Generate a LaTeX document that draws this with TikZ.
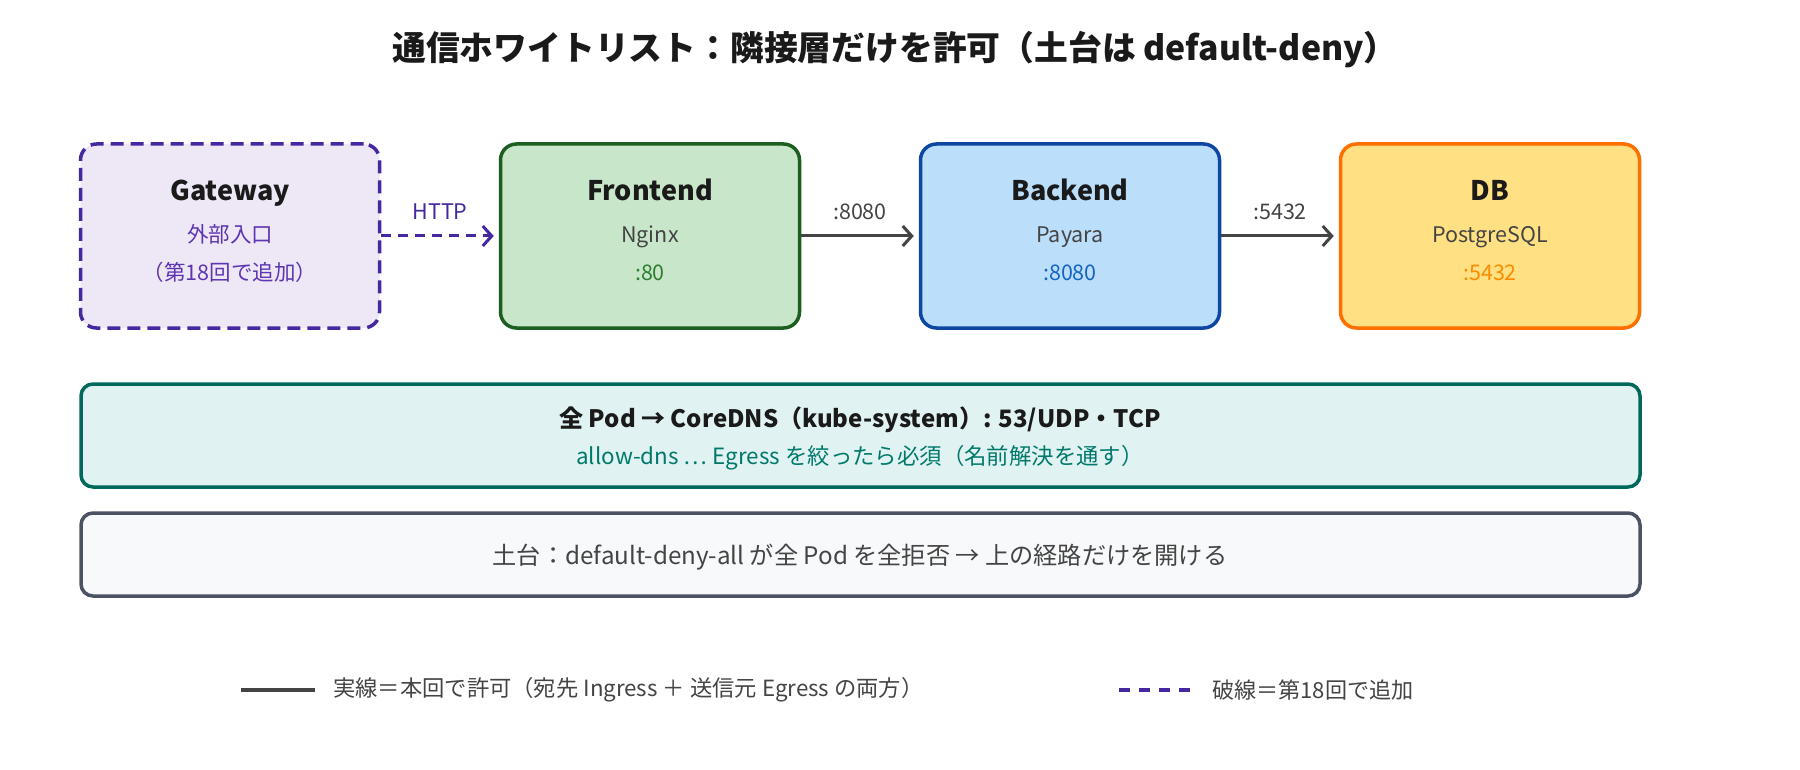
\documentclass[tikz,border=0pt]{standalone}
\usepackage{fontspec}
\setmainfont{Noto Sans CJK JP}
\usepackage{xcolor}
\usetikzlibrary{arrows.meta, positioning}
\definecolor{ink}{HTML}{1A1A1A}
\definecolor{greytext}{HTML}{444444}
\definecolor{gwfill}{HTML}{EDE7F6}
\definecolor{gwline}{HTML}{4527A0}
\definecolor{gwtext}{HTML}{5E35B1}
\definecolor{fefill}{HTML}{C8E6C9}
\definecolor{feline}{HTML}{1B5E20}
\definecolor{fetext}{HTML}{2E7D32}
\definecolor{befill}{HTML}{BBDEFB}
\definecolor{beline}{HTML}{0D47A1}
\definecolor{betext}{HTML}{1565C0}
\definecolor{dbfill}{HTML}{FFE082}
\definecolor{dbline}{HTML}{FF6F00}
\definecolor{dbtext}{HTML}{FB8C00}
\definecolor{dnsfill}{HTML}{E0F2F1}
\definecolor{dnsline}{HTML}{00695C}
\definecolor{dnstext}{HTML}{00796B}
\definecolor{basefill}{HTML}{F8F9FA}
\definecolor{baseedge}{HTML}{4A5263}
\definecolor{flowgrey}{HTML}{444444}

\begin{document}
\begin{tikzpicture}[
    x=1pt, y=-1pt,
    svcbox/.style 2 args={draw=#2, fill=#1, line width=3.5pt, rounded corners=16pt, minimum width=299pt, minimum height=184pt},
    txthead/.style={anchor=base, inner sep=0pt, font=\fontsize{27}{30}\selectfont\bfseries, text=ink},
    txtsub/.style={anchor=base, inner sep=0pt, font=\fontsize{21.5}{24}\selectfont, text=#1},
    portlbl/.style={midway, above=15pt, inner sep=0pt, font=\fontsize{21.5}{24}\selectfont, text=#1},
    arrow/.style={-{Straight Barb[length=9pt, width=20pt]}, line width=3pt, color=#1, shorten >=5pt}
]
\fill[white] (0,0) rectangle (1800,770);
\useasboundingbox (0,0) rectangle (1800,770);

\node[font=\fontsize{33.8}{38}\selectfont\bfseries, text=ink] (title) at (895,50) {通信ホワイトリスト：隣接層だけを許可（土台は default-deny）};

% services
\node[svcbox={gwfill}{gwline}, dash pattern=on 13pt off 7pt] (gw) at (230,236) {};
\node[svcbox={fefill}{feline}] (fe) at (650,236) {};
\node[svcbox={befill}{beline}] (be) at (1070,236) {};
\node[svcbox={dbfill}{dbline}] (db) at (1490,236) {};

\node[txthead] (gwname) at (230,201) {Gateway};
\node[txtsub=gwtext] (gwrole) at (230,243) {外部入口};
\node[txtsub=gwtext] (gwnote) at (230,280) {（第18回で追加）};
\node[txthead] (fename) at (650,201) {Frontend};
\node[txtsub=greytext] (ferole) at (650,243) {Nginx};
\node[txtsub=fetext] (feport) at (650,280) {:80};
\node[txthead] (bename) at (1070,201) {Backend};
\node[txtsub=greytext] (berole) at (1070,243) {Payara};
\node[txtsub=betext] (beport) at (1070,280) {:8080};
\node[txthead] (dbname) at (1490,201) {DB};
\node[txtsub=greytext] (dbrole) at (1490,243) {PostgreSQL};
\node[txtsub=dbtext] (dbport) at (1490,280) {:5432};

\draw[arrow=gwline, dash pattern=on 10pt off 7pt] (gw) -- node[portlbl=gwline] {HTTP} (fe);
\draw[arrow=flowgrey] (fe) -- node[portlbl=greytext] {:8080} (be);
\draw[arrow=flowgrey] (be) -- node[portlbl=greytext] {:5432} (db);

% dns + default deny
\node[draw=dnsline, fill=dnsfill, line width=3.5pt, rounded corners=12pt, minimum width=1559pt, minimum height=103pt] (dns) at (860.5,435.5) {};
\node[font=\fontsize{24}{28}\selectfont\bfseries, text=ink] (dnsrule) at (860,420) {全 Pod → CoreDNS（kube-system）: 53/UDP・TCP};
\node[font=\fontsize{22.4}{26}\selectfont, text=dnstext] (dnsnote) at (860,458) {allow-dns ⋯ Egress を絞ったら必須（名前解決を通す）};

\node[draw=baseedge, fill=basefill, line width=3.5pt, rounded corners=12pt, minimum width=1559pt, minimum height=83pt] (base) at (860.5,554.5) {};
\node[font=\fontsize{24.2}{28}\selectfont, text=greytext] (basetext) at (860,557) {土台：default-deny-all が全 Pod を全拒否 → 上の経路だけを開ける};

% legend
\coordinate (solidA) at (241,690);
\coordinate (solidB) at (315,690);
\coordinate (dashA) at (1119,690);
\coordinate (dashB) at (1192,690);
\draw[flowgrey, line width=4pt] (solidA) -- (solidB);
\draw[gwline, line width=4pt, dash pattern=on 11pt off 9pt] (dashA) -- (dashB);
\node[anchor=west, inner sep=0pt, font=\fontsize{22.3}{26}\selectfont, text=greytext] (solidtext) at (333,690) {実線＝本回で許可（宛先 Ingress ＋ 送信元 Egress の両方）};
\node[anchor=west, inner sep=0pt, font=\fontsize{22.1}{26}\selectfont, text=greytext] (dashtext) at (1212,690) {破線＝第18回で追加};
\end{tikzpicture}
\end{document}
